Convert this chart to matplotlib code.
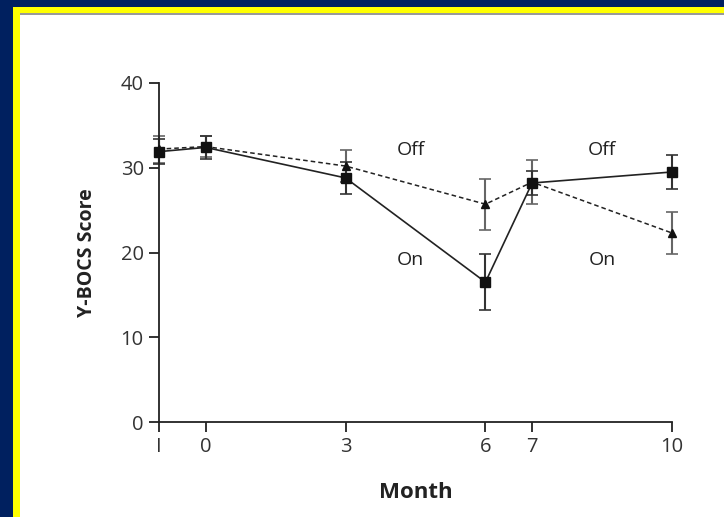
import matplotlib.pyplot as plt
from matplotlib.patches import Rectangle

# data
months = [-1, 0, 3, 6, 7, 10]
month_labels = ['I', '0', '3', '6', '7', '10']
on_first = [31.9, 32.4, 28.8, 16.5, 28.2, 29.5]      # squares, solid
on_first_err = [1.5, 1.4, 1.9, 3.3, 1.4, 2.0]
off_first = [32.2, 32.5, 30.2, 25.7, 28.3, 22.3]     # triangles, dashed
off_first_err = [1.6, 1.2, 1.9, 3.0, 2.6, 2.5]
phase_labels = [(4.4, 32.1, 'Off'), (4.4, 19.1, 'On'), (8.5, 32.1, 'Off'), (8.5, 19.1, 'On')]

plt.rcParams['font.family'] = ['Open Sans', 'DejaVu Sans']

fig = plt.figure(figsize=(7.24, 5.17), dpi=100)
fig.patch.set_facecolor('#00205f')
W, H = 724, 517
# yellow frame, thin grey edge at the top, white panel
fig.add_artist(Rectangle((13 / W, 0), 1, 1 - 7 / H, transform=fig.transFigure,
                         facecolor='#ffff00', edgecolor='none', zorder=-3))
fig.add_artist(Rectangle((20 / W, 0), 1, 1 - 13 / H, transform=fig.transFigure,
                         facecolor='#999999', edgecolor='none', zorder=-2))
fig.add_artist(Rectangle((20 / W, 0), 1, 1 - 15 / H, transform=fig.transFigure,
                         facecolor='white', edgecolor='none', zorder=-1))

ax = fig.add_axes([159 / W, 1 - 422 / H, (672 - 159) / W, (422 - 83) / H])
ax.set_facecolor('none')

ax.errorbar(months, off_first, yerr=off_first_err, fmt='none', ecolor='#666666',
            elinewidth=1.5, capsize=4, capthick=1.2, zorder=2)
ax.errorbar(months, on_first, yerr=on_first_err, fmt='none', ecolor='#333333',
            elinewidth=1.5, capsize=4, capthick=1.2, zorder=2)
ax.plot(months, off_first, linestyle=(0, (3, 2)), color='#222222', linewidth=1.1,
        marker='^', markersize=6, markerfacecolor='#111111', markeredgecolor='#111111', zorder=3)
ax.plot(months, on_first, linestyle='-', color='#222222', linewidth=1.2,
        marker='s', markersize=7, markerfacecolor='#111111', markeredgecolor='#111111', zorder=4)

for x, y, txt in phase_labels:
    ax.text(x, y, txt, ha='center', va='center', fontsize=14, color='#222222')

ax.set_xlim(-1, 10)
ax.set_ylim(0, 40)
ax.set_xticks(months)
ax.set_xticklabels(month_labels)
ax.set_yticks([0, 10, 20, 30, 40])
ax.spines['top'].set_visible(False)
ax.spines['right'].set_visible(False)
for s in ['left', 'bottom']:
    ax.spines[s].set_linewidth(1.3)
    ax.spines[s].set_color('#222222')
ax.tick_params(axis='both', direction='out', length=7, width=1.3, color='#222222',
               labelsize=14.5, labelcolor='#333333', pad=4)
for art in ax.get_children():
    art.set_clip_on(False)

ax.set_xlabel('Month', fontsize=16, fontweight='bold', color='#222222', labelpad=18)
ax.set_ylabel('Y-BOCS Score', fontsize=14, fontweight='bold', color='#222222', labelpad=17)

fig.savefig('out.png', dpi=100, facecolor=fig.get_facecolor())
